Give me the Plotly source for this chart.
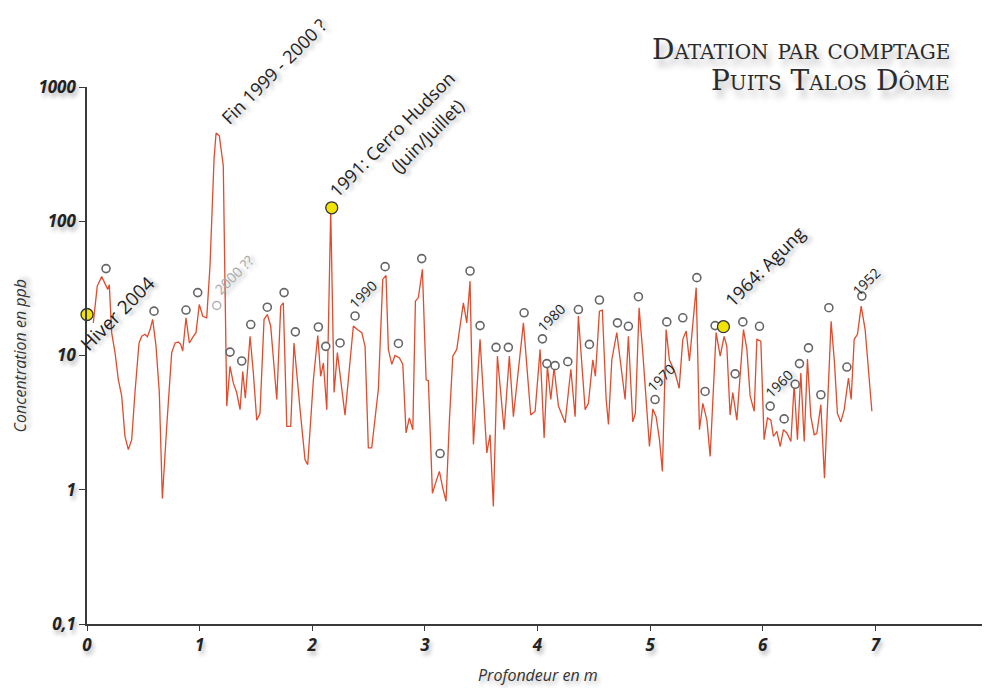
import plotly.graph_objects as go

# profil de concentration (profondeur en m, concentration en ppb)
depth = [0.056, 0.091, 0.131, 0.160, 0.184, 0.198, 0.219, 0.249, 0.278, 0.308,
         0.337, 0.367, 0.397, 0.426, 0.462, 0.486, 0.515, 0.536, 0.560, 0.583,
         0.613, 0.642, 0.669, 0.708, 0.752, 0.782, 0.811, 0.832, 0.850, 0.879,
         0.909, 0.944, 0.968, 0.997, 1.028, 1.063, 1.092, 1.128, 1.146, 1.175,
         1.210, 1.241, 1.270, 1.299, 1.329, 1.359, 1.383, 1.406, 1.448, 1.477,
         1.507, 1.536, 1.572, 1.601, 1.631, 1.685, 1.720, 1.743, 1.774, 1.809,
         1.838, 1.892, 1.936, 1.960, 2.010, 2.049, 2.075, 2.099, 2.129, 2.164,
         2.194, 2.223, 2.262, 2.291, 2.329, 2.365, 2.400, 2.440, 2.469, 2.498,
         2.528, 2.587, 2.626, 2.655, 2.676, 2.706, 2.735, 2.774, 2.804, 2.833,
         2.862, 2.893, 2.916, 2.942, 2.978, 3.011, 3.031, 3.067, 3.099, 3.129,
         3.159, 3.188, 3.218, 3.248, 3.283, 3.342, 3.372, 3.401, 3.431, 3.490,
         3.550, 3.579, 3.608, 3.644, 3.703, 3.750, 3.786, 3.875, 3.940, 3.979,
         4.023, 4.059, 4.088, 4.118, 4.147, 4.186, 4.245, 4.296, 4.334, 4.363,
         4.423, 4.452, 4.491, 4.514, 4.550, 4.576, 4.609, 4.630, 4.660, 4.704,
         4.778, 4.807, 4.846, 4.869, 4.902, 4.935, 4.994, 5.024, 5.053, 5.083,
         5.109, 5.142, 5.171, 5.222, 5.258, 5.290, 5.320, 5.349, 5.409, 5.438,
         5.468, 5.504, 5.533, 5.586, 5.622, 5.657, 5.681, 5.710, 5.734, 5.770,
         5.829, 5.859, 5.888, 5.924, 5.948, 5.983, 6.012, 6.042, 6.072, 6.095,
         6.125, 6.155, 6.184, 6.214, 6.250, 6.279, 6.308, 6.338, 6.368, 6.397,
         6.427, 6.457, 6.480, 6.516, 6.548, 6.578, 6.607, 6.637, 6.663, 6.693,
         6.723, 6.761, 6.785, 6.812, 6.841, 6.874, 6.909, 6.969]
conc = [17.5, 32.9, 38.7, 34.5, 31.1, 33.7, 14.8, 10.5, 6.6, 5.0,
        2.5, 1.99, 2.36, 5.3, 12.4, 13.9, 14.4, 13.8, 15.6, 18.6,
        11.7, 5.3, 0.86, 2.97, 10.5, 12.4, 12.6, 12.1, 10.8, 19.1,
        12.4, 13.9, 14.8, 24.0, 19.6, 19.1, 46.4, 290, 454, 433,
        259, 4.2, 8.3, 6.25, 5.3, 3.95, 7.6, 4.8, 13.9, 7.4,
        3.3, 3.7, 18.6, 20.2, 16.6, 4.7, 23.3, 24.7, 2.97, 2.97,
        12.4, 3.95, 1.67, 1.54, 6.6, 14.1, 7.0, 8.8, 3.95, 120,
        5.3, 10.5, 5.9, 3.6, 7.9, 16.6, 15.6, 14.8, 11.7, 2.05,
        2.05, 5.6, 36.9, 39.5, 11.1, 8.6, 10.0, 9.6, 8.6, 2.65,
        3.43, 2.8, 25.4, 27.0, 43.8, 6.6, 6.5, 0.94, 1.15, 1.37,
        1.03, 0.82, 3.3, 9.9, 11.1, 24.7, 17.5, 35.8, 2.17, 13.2,
        1.88, 2.57, 0.75, 9.9, 2.8, 9.9, 3.5, 17.5, 3.6, 3.84,
        11.1, 2.43, 8.3, 4.7, 8.1, 4.2, 3.15, 7.9, 3.5, 19.7,
        3.95, 4.4, 9.3, 7.0, 21.4, 21.8, 4.8, 3.06, 9.3, 14.8,
        4.7, 13.9, 3.2, 3.7, 22.7, 10.5, 2.1, 4.0, 3.5, 2.36,
        1.37, 15.6, 9.3, 7.4, 5.7, 13.2, 15.2, 9.1, 32.0, 2.8,
        4.4, 3.3, 1.77, 14.8, 9.9, 13.9, 11.7, 3.6, 5.3, 3.3,
        15.6, 11.1, 5.0, 3.84, 13.2, 12.8, 2.36, 3.43, 3.3, 2.5,
        2.72, 2.1, 2.8, 2.65, 2.29, 6.1, 2.36, 7.4, 2.29, 9.4,
        3.5, 2.57, 2.62, 4.3, 1.22, 4.7, 18.0, 8.8, 3.7, 3.2,
        3.95, 6.8, 4.7, 13.2, 14.4, 23.3, 15.6, 3.84]

# pics annuels comptés (cercles)
circ_depth = [0.169, 0.595, 0.879, 0.983, 1.270, 1.374, 1.454, 1.601, 1.750, 1.850,
              2.054, 2.120, 2.247, 2.380, 2.647, 2.765, 2.972, 3.135, 3.401, 3.490,
              3.632, 3.741, 3.881, 4.044, 4.083, 4.156, 4.269, 4.363, 4.461, 4.550,
              4.710, 4.807, 4.896, 5.044, 5.148, 5.290, 5.415, 5.488, 5.577, 5.755,
              5.823, 5.971, 6.066, 6.190, 6.288, 6.326, 6.406, 6.516, 6.587, 6.747,
              6.880]
circ_conc = [44.4, 21.4, 21.8, 29.4, 10.6, 9.1, 17.0, 22.9, 29.4, 15.0,
             16.3, 11.7, 12.4, 19.7, 45.9, 12.3, 52.7, 1.86, 42.6, 16.7,
             11.5, 11.5, 20.8, 13.3, 8.7, 8.4, 9.0, 22.0, 12.1, 25.9,
             17.5, 16.5, 27.4, 4.7, 17.8, 19.1, 38.0, 5.4, 16.7, 7.3,
             17.8, 16.5, 4.2, 3.37, 6.1, 8.7, 11.4, 5.1, 22.7, 8.2,
             27.7]

# pic douteux "2000 ??"
doute_depth = [1.152]
doute_conc = [23.6]

# repères datés (points jaunes)
ref_depth = [0.0, 2.173, 5.651]
ref_conc = [20.2, 126, 16.4]

y_ticks = [0.1, 1, 10, 100, 1000]
y_ticklabels = ['0,1', '1', '10', '100', '1000']

assert len(depth) == len(conc)
assert len(circ_depth) == len(circ_conc)

FONT = 'Open Sans'
SHADOW = '2px 4px 4px rgba(0,0,0,0.28)'

fig = go.Figure()

fig.add_trace(go.Scatter(
    x=depth, y=conc,
    mode='lines',
    line=dict(color='#e24b2c', width=1.3),
    hoverinfo='skip'
))

fig.add_trace(go.Scatter(
    x=circ_depth, y=circ_conc,
    mode='markers',
    marker=dict(symbol='circle', size=8, color='white',
                line=dict(color='#666666', width=1.6))
))

fig.add_trace(go.Scatter(
    x=doute_depth, y=doute_conc,
    mode='markers',
    marker=dict(symbol='circle', size=8, color='white',
                line=dict(color='#b0b0b0', width=1.4))
))

fig.add_trace(go.Scatter(
    x=ref_depth, y=ref_conc,
    mode='markers',
    cliponaxis=False,
    marker=dict(symbol='circle', size=12, color='#f3e300',
                line=dict(color='#333333', width=1.3))
))

# annotations inclinées : texte, profondeur, log10(conc), taille, couleur
labels = [
    ('Hiver 2004', 0.275, 1.313, 19, '#222222'),
    ('Fin 1999 - 2000 ?', 1.661, 3.119, 18, '#222222'),
    ('1991: Cerro Hudson', 2.709, 2.649, 18, '#222222'),
    ('(Juin/Juillet)', 3.02, 2.634, 18, '#222222'),
    ('1964: Agung', 6.021, 1.664, 18, '#222222'),
    ('1990', 2.447, 1.455, 14, '#222222'),
    ('1980', 4.121, 1.284, 14, '#222222'),
    ('1970', 5.098, 0.836, 14, '#222222'),
    ('1960', 6.146, 0.791, 14, '#222222'),
    ('1952', 6.918, 1.552, 14, '#222222'),
    ('2000 ??', 1.306, 1.604, 14, '#a8a8a8'),
]

annotations = []
for txt, xx, yy, sz, col in labels:
    # au-dessus de 1000 ppb l'annotation serait masquée : repère papier
    annotations.append(dict(
        text=txt, x=xx, xref='x',
        y=(yy + 1) / 4, yref='paper',
        xanchor='center', yanchor='middle',
        showarrow=False, textangle=-45,
        font=dict(family=FONT, size=sz, color=col, shadow=SHADOW)
    ))

# titre
title_font = dict(family='DejaVu Serif', size=28, color='#2b2b2b', variant='small-caps',
                  shadow='4px 7px 6px rgba(0,0,0,0.3)')
annotations.append(dict(
    text='Datation par comptage', xref='paper', yref='paper',
    x=0.96, y=1.069, xanchor='right', yanchor='middle', showarrow=False,
    font=title_font
))
annotations.append(dict(
    text='Puits Talos Dôme', xref='paper', yref='paper',
    x=0.96, y=1.013, xanchor='right', yanchor='middle', showarrow=False,
    font=title_font
))

# titres d'axes
annotations.append(dict(
    text='Profondeur en m', xref='paper', yref='paper',
    x=0.5, y=-0.095, xanchor='center', yanchor='middle', showarrow=False,
    font=dict(family=FONT, size=16, color='#333333', style='italic', shadow=SHADOW)
))
annotations.append(dict(
    text='Concentration en ppb', xref='paper', yref='paper',
    x=-0.0744, y=0.5, xanchor='center', yanchor='middle', showarrow=False,
    textangle=-90,
    font=dict(family=FONT, size=16, color='#333333', style='italic', shadow=SHADOW)
))

tickfont = dict(family=FONT, size=17, color='#222222', weight='bold',
                style='italic', shadow=SHADOW)

# la page ajoute 8 px de marge autour de la figure
fig.update_layout(
    width=982,
    height=680,
    margin=dict(l=79, r=2, t=79, b=64),
    plot_bgcolor='white',
    paper_bgcolor='white',
    showlegend=False,
    annotations=annotations,
    xaxis=dict(
        range=[0, 8],
        tick0=0,
        dtick=1,
        showgrid=False,
        zeroline=False,
        showline=True,
        linecolor='#3a3a3a',
        linewidth=1.5,
        ticks='outside',
        ticklen=5,
        tickcolor='#3a3a3a',
        tickfont=tickfont,
        ticklabeloverflow='allow',
        automargin=False
    ),
    yaxis=dict(
        type='log',
        range=[-1, 3],
        tickvals=y_ticks,
        ticktext=y_ticklabels,
        showgrid=False,
        zeroline=False,
        showline=True,
        linecolor='#3a3a3a',
        linewidth=1.5,
        ticks='outside',
        ticklen=6,
        tickcolor='#3a3a3a',
        tickfont=tickfont,
        automargin=False
    )
)

fig.write_html("out.html")
